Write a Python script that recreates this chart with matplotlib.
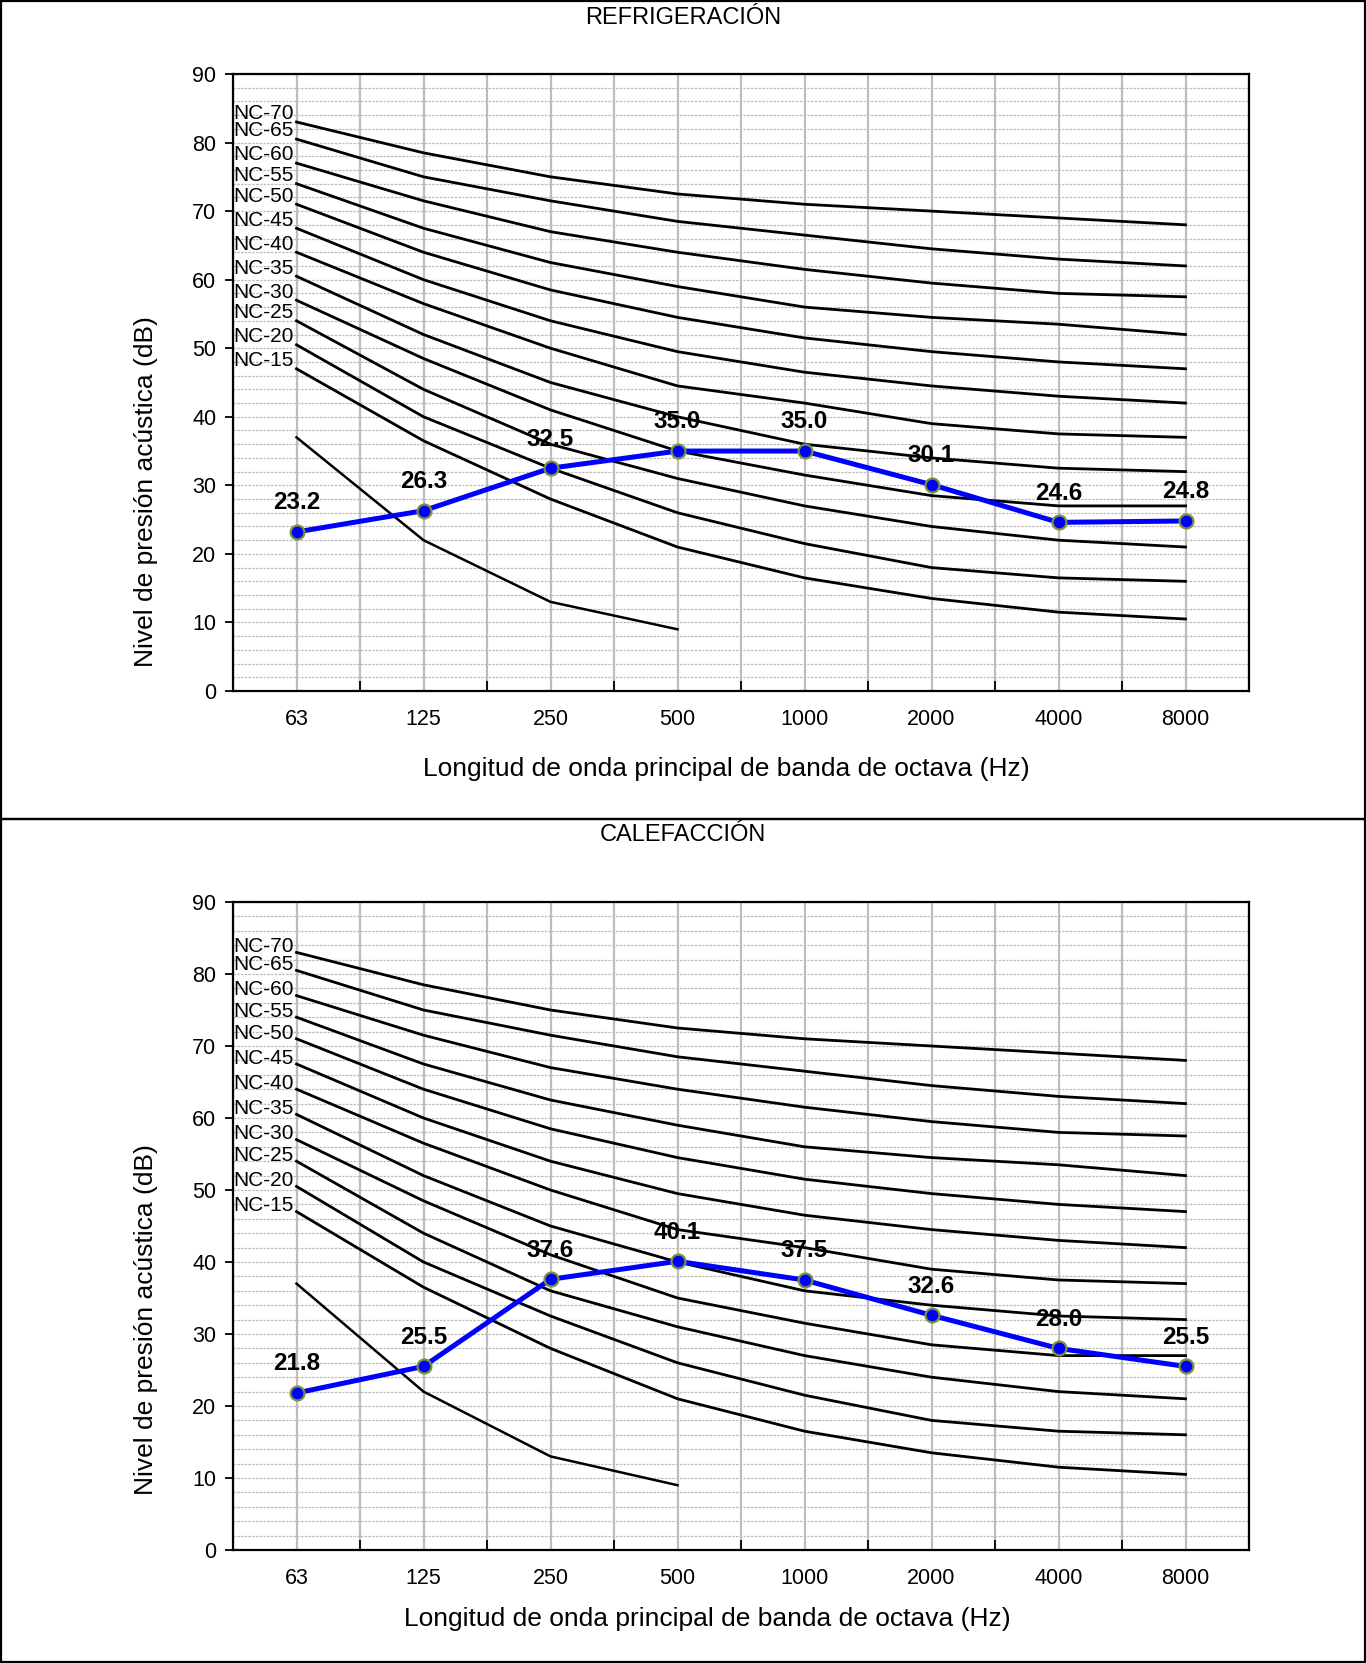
import matplotlib
matplotlib.use('Agg')
import matplotlib.pyplot as plt
from matplotlib.patches import Rectangle
from matplotlib.ticker import MultipleLocator

plt.rcParams['font.family'] = ['Liberation Sans', 'DejaVu Sans']

# Octave band centre frequencies (category axis)
freq_labels = ['63', '125', '250', '500', '1000', '2000', '4000', '8000']

# NC reference curves (dB per band)
nc_names = ['NC-70', 'NC-65', 'NC-60', 'NC-55', 'NC-50', 'NC-45',
            'NC-40', 'NC-35', 'NC-30', 'NC-25', 'NC-20', 'NC-15']
nc70 = [83, 78.5, 75, 72.5, 71, 70, 69, 68]
nc65 = [80.5, 75, 71.5, 68.5, 66.5, 64.5, 63, 62]
nc60 = [77, 71.5, 67, 64, 61.5, 59.5, 58, 57.5]
nc55 = [74, 67.5, 62.5, 59, 56, 54.5, 53.5, 52]
nc50 = [71, 64, 58.5, 54.5, 51.5, 49.5, 48, 47]
nc45 = [67.5, 60, 54, 49.5, 46.5, 44.5, 43, 42]
nc40 = [64, 56.5, 50, 44.5, 42, 39, 37.5, 37]
nc35 = [60.5, 52, 45, 40, 36, 34, 32.5, 32]
nc30 = [57, 48.5, 41, 35, 31.5, 28.5, 27, 27]
nc25 = [54, 44, 36, 31, 27, 24, 22, 21]
nc20 = [50.5, 40, 32.5, 26, 21.5, 18, 16.5, 16]
nc15 = [47, 36.5, 28, 21, 16.5, 13.5, 11.5, 10.5]
# short bottom curve (63..500 Hz only)
nc_low = [37, 22, 13, 9]

# measured levels
refrigeracion = [23.2, 26.3, 32.5, 35.0, 35.0, 30.1, 24.6, 24.8]
calefaccion = [21.8, 25.5, 37.6, 40.1, 37.5, 32.6, 28.0, 25.5]

nc_curves = [nc70, nc65, nc60, nc55, nc50, nc45, nc40, nc35, nc30, nc25, nc20, nc15]

W, H = 1366, 1663
fig = plt.figure(figsize=(W / 100, H / 100), dpi=100)


def fx(px):
    return px / W


def fy(py):
    return 1 - py / H


def draw_panel(ax, series, label_dy):
    x = list(range(len(freq_labels)))
    ax.set_xlim(-0.5, len(freq_labels) - 0.5)
    ax.set_ylim(0, 90)

    for name, lv in zip(nc_names, nc_curves):
        ax.plot(x, lv, color='black', lw=2.0, zorder=3)
        ax.text(-0.5, lv[0] + label_dy, name, fontsize=15, ha='left', va='center',
                zorder=4, clip_on=False)
    ax.plot(x[:len(nc_low)], nc_low, color='black', lw=1.8, zorder=3)

    ax.plot(x, series, color='#0000ff', lw=3.6, marker='o', ms=10,
            mfc='#0000ff', mec='#77933c', mew=1.6, zorder=5)
    for xi, v in zip(x, series):
        ax.annotate(f'{v:.1f}', (xi, v), xytext=(0, 21), textcoords='offset points',
                    ha='center', va='center', fontsize=17.5, fontweight='bold', zorder=6)

    ax.set_xticks(x)
    ax.set_xticklabels(freq_labels)
    ax.set_xticks([i - 0.5 for i in range(len(freq_labels) + 1)], minor=True)
    ax.set_yticks(range(0, 91, 10))
    ax.yaxis.set_minor_locator(MultipleLocator(2))

    ax.set_axisbelow(True)
    ax.grid(axis='x', which='both', color='#bdbdbd', lw=1.6)
    ax.grid(axis='y', which='both', color='#bcbcbc', lw=0.9, linestyle=(0, (2, 1)))

    ax.tick_params(axis='x', which='major', length=0, pad=13, labelsize=15.5)
    ax.tick_params(axis='x', which='minor', direction='in', length=7, width=1.3)
    ax.tick_params(axis='y', which='major', direction='out', length=6, width=1.3,
                   labelsize=15.5, pad=6)
    ax.tick_params(axis='y', which='minor', length=0)
    for sp in ax.spines.values():
        sp.set_color('black')
        sp.set_linewidth(1.6)


# top panel: refrigeracion
ax1 = fig.add_axes([fx(233), fy(691), fx(1249 - 233), (691 - 74) / H])
draw_panel(ax1, refrigeracion, 1.2)
fig.text(fx(683), fy(18), 'REFRIGERACIÓN', ha='center', va='center', fontsize=17)
fig.text(fx(146), fy(492), 'Nivel de presión acústica (dB)', rotation=90,
         ha='center', va='center', fontsize=19)
fig.text(fx(726), fy(769), 'Longitud de onda principal de banda de octava (Hz)',
         ha='center', va='center', fontsize=19)

# bottom panel: calefaccion
ax2 = fig.add_axes([fx(233), fy(1550), fx(1249 - 233), (1550 - 902) / H])
draw_panel(ax2, calefaccion, 0.8)
fig.text(fx(683), fy(835), 'CALEFACCIÓN', ha='center', va='center', fontsize=17)
fig.text(fx(146), fy(1320), 'Nivel de presión acústica (dB)', rotation=90,
         ha='center', va='center', fontsize=19)
fig.text(fx(707), fy(1619), 'Longitud de onda principal de banda de octava (Hz)',
         ha='center', va='center', fontsize=19)

# panel frames
for top, bottom in [(1, 819), (819, 1662)]:
    fig.add_artist(Rectangle((fx(1), fy(bottom)), fx(1364), (bottom - top) / H,
                             transform=fig.transFigure, fill=False,
                             edgecolor='black', lw=1.6))

fig.savefig('out.png', dpi=100)
